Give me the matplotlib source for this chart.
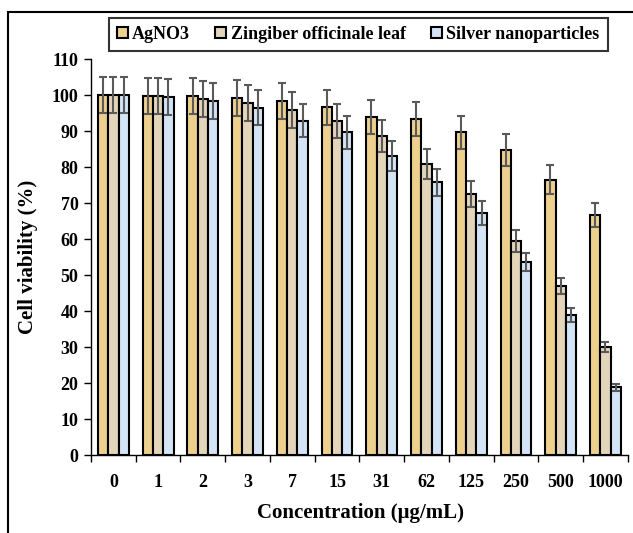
import numpy as np
import matplotlib
matplotlib.use("Agg")
import matplotlib.pyplot as plt
from matplotlib.patches import Rectangle

# ==============================
# Data
# ==============================
concentrations = ["0", "1", "2", "3", "7", "15", "31", "62", "125", "250", "500", "1000"]
series_names = ["AgNO3", "Zingiber officinale leaf", "Silver nanoparticles"]

agno3 = [100, 99.8, 99.6, 99.2, 98.2, 96.6, 93.8, 93.3, 89.7, 84.7, 76.5, 66.7]
zingiber = [100, 99.7, 99.0, 97.8, 95.9, 92.8, 88.6, 80.8, 72.5, 59.5, 47.0, 30.0]
silver = [100, 99.5, 98.4, 96.5, 92.9, 89.6, 83.0, 75.7, 67.3, 53.7, 38.8, 18.8]

agno3_err = [5, 5, 5, 5, 5, 4.8, 4.7, 4.8, 4.6, 4.4, 4.0, 3.3]
zingiber_err = [5, 5, 5, 5, 5, 4.8, 4.4, 4.1, 3.6, 3.0, 2.3, 1.4]
silver_err = [5, 5, 5, 4.8, 4.7, 4.5, 4.2, 3.8, 3.3, 2.5, 1.9, 0.9]

colors = ["#EDCF8E", "#E2D5BA", "#D3E4F6"]

# ==============================
# Plot
# ==============================
plt.rcParams["font.family"] = ["Liberation Serif", "DejaVu Serif"]
plt.rcParams["font.weight"] = "bold"

fig = plt.figure(figsize=(6.33, 5.33), dpi=100)
ax = fig.add_axes([0.1438, 0.1463, 0.848, 0.743])

x = np.arange(len(concentrations))
width = 0.23
values = [agno3, zingiber, silver]
errors = [agno3_err, zingiber_err, silver_err]

for i, (vals, errs) in enumerate(zip(values, errors)):
    ax.bar(x + (i - 1) * width, vals, width, color=colors[i], edgecolor="black",
           linewidth=1.5, label=series_names[i], zorder=2,
           yerr=errs, error_kw=dict(ecolor="#5a5a5a", elinewidth=1.5,
                                    capsize=3, capthick=1.5, zorder=3))

ax.set_xlim(-0.5, len(concentrations) - 0.5)
ax.set_ylim(0, 110)
ax.set_yticks(np.arange(0, 111, 10))
ax.set_xticks(x)
ax.set_xticklabels(concentrations)
ax.set_xticks(np.arange(-0.5, len(concentrations), 1), minor=True)
ax.tick_params(axis="x", which="major", length=0, pad=14, labelsize=13)
ax.tick_params(axis="x", which="minor", length=5, width=1, direction="out")
ax.tick_params(axis="y", length=5, width=1, labelsize=13, pad=4)

for lbl in ax.get_xticklabels() + ax.get_yticklabels():
    lbl.set_fontweight("bold")

ax.spines["top"].set_visible(False)
ax.spines["right"].set_visible(False)
ax.spines["left"].set_linewidth(1)
ax.spines["bottom"].set_linewidth(1)

ax.set_ylabel("Cell viability (%)", fontsize=15, fontweight="bold", labelpad=10)
fig.text(0.57, 0.018, "Concentration (\u03bcg/mL)", ha="center", va="bottom",
         fontsize=15, fontweight="bold")

leg = fig.legend(loc="center", bbox_to_anchor=(0.566, 0.9355), ncol=3,
                 fontsize=13, frameon=True, fancybox=False, edgecolor="black",
                 handlelength=0.6, handleheight=0.6, handletextpad=0.25,
                 columnspacing=1.4, borderpad=0.45)
leg.get_frame().set_linewidth(1.5)
for t in leg.get_texts():
    t.set_fontweight("bold")

# outer frame (top and left visible, rest cut off)
fig.add_artist(Rectangle((8 / 633, -0.2), 1.2, 1.2 - 12 / 533,
                         transform=fig.transFigure, fill=False,
                         edgecolor="black", linewidth=1.5))

plt.savefig("out.png", dpi=100)
